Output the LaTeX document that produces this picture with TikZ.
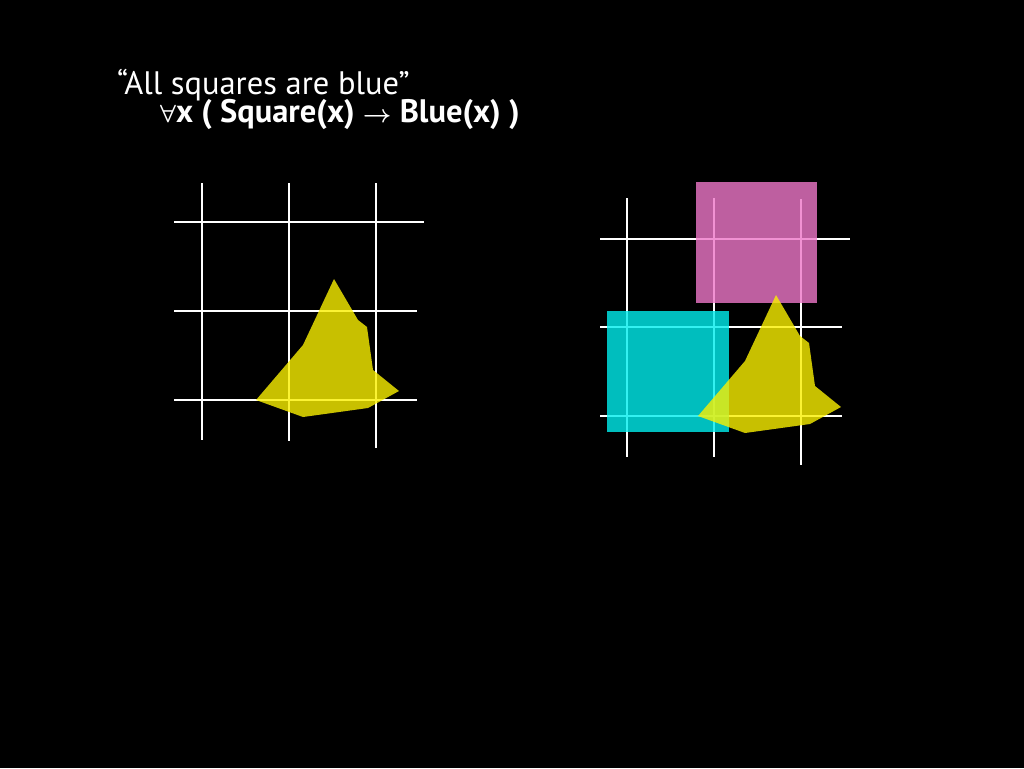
\documentclass[tikz,border=0pt]{standalone}
\usepackage{fontspec}
\setmainfont{PT Sans}
\definecolor{shapeyellow}{RGB}{250,240,0}
\definecolor{shapepink}{RGB}{238,119,200}
\definecolor{shapecyan}{RGB}{0,238,238}
\tikzset{
  gridline/.style={white, line width=1.6pt},
  blob/.style={fill=#1, fill opacity=0.8, draw=none},
  caption/.style={white, anchor=base west, inner sep=0pt, align=left,
    font=\fontsize{32.5}{34}\selectfont}
}
\begin{document}
\begin{tikzpicture}[x=1pt, y=-1pt]
    \fill[black] (0,0) rectangle (1024,768);
    \useasboundingbox (0,0) rectangle (1024,768);

    \node[caption] (claim) at (117,122) {``All squares are blue''\\[-6pt]
      \hspace*{43pt}{\bfseries\boldmath $\forall$x ( Square(x) $\rightarrow$ Blue(x) )}};

    % left world
    \draw[gridline] (202,183) -- (202,440);
    \draw[gridline] (289,183) -- (289,441);
    \draw[gridline] (376,183) -- (376,448);
    \draw[gridline] (174,222) -- (424,222);
    \draw[gridline] (174,311) -- (417,311);
    \draw[gridline] (174,400) -- (417,400);

    \fill[blob=shapeyellow] (334,279) -- (358,320) -- (367,327) -- (373,370)
      -- (399,391) -- (368,408) -- (303,417) -- (256,400) -- (303,345) -- cycle;

    % right world
    \draw[gridline] (627,198) -- (627,457);
    \draw[gridline] (714,198) -- (714,457);
    \draw[gridline] (801,199) -- (801,465);
    \draw[gridline] (600,239) -- (850,239);
    \draw[gridline] (600,327) -- (842,327);
    \draw[gridline] (600,416) -- (842,416);

    \fill[blob=shapepink] (696,182) rectangle (817,303);
    \fill[blob=shapecyan] (607,311) rectangle (729,432);

    \begin{scope}[shift={(442,16)}]
      \fill[blob=shapeyellow] (334,279) -- (358,320) -- (367,327) -- (373,370)
        -- (399,391) -- (368,408) -- (303,417) -- (256,400) -- (303,345) -- cycle;
    \end{scope}
  \end{tikzpicture}
\end{document}
